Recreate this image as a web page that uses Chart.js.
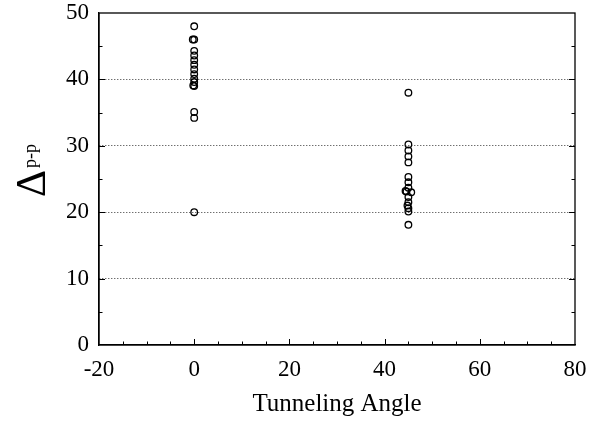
<!DOCTYPE html>
<html lang="en">
<head>
  <meta charset="UTF-8"/>
  <title>Delta p-p vs Tunneling Angle</title>
  <script src="https://cdn.jsdelivr.net/npm/chart.js"></script>
  <style>
    body { margin: 0; padding: 0; background: #fff; }
    .wrap { position: relative; width: 599px; height: 422px; }
  </style>
</head>
<body>
  <div class="wrap"><canvas id="chart" width="599" height="422"></canvas></div>
  <script>
// measured points: tunneling angle (deg) and peak-to-peak delta
const angleSet0 = [0, -0.3, 0, 0, 0, 0, 0, 0, 0, 0, 0, -0.2, 0, 0, 0, 0];
const deltaSet0 = [48, 46, 46, 44.3, 43.6, 42.9, 42.2, 41.5, 40.8, 40.1, 39.6, 39.1, 39, 35.1, 34.2, 20];
const angleSet45 = [45, 45, 45, 45, 45, 45, 45, 45, 44.4, 44.6, 45.6, 45, 45, 44.8, 45, 45, 45];
const deltaSet45 = [38, 30.2, 29.3, 28.4, 27.5, 25.3, 24.5, 23.7, 23.2, 23.1, 23.0, 22.3, 21.5, 21.0, 20.6, 20.1, 18.1];
const xTickValues = [-20, 0, 20, 40, 60, 80];
const yTickValues = [0, 10, 20, 30, 40, 50];

const SERIF = "'Liberation Serif', 'Times New Roman', serif";

function toPoints(xs, ys) { return xs.map((x, i) => ({ x: x, y: ys[i] })); }

// frame, inward tick marks and axis labels
const framePlugin = {
  id: 'frame',
  afterDraw(chart) {
    const ctx = chart.ctx, a = chart.chartArea;
    const xs = chart.scales.x, ys = chart.scales.y;
    ctx.save();
    ctx.strokeStyle = '#000';
    ctx.lineWidth = 1.3;
    ctx.setLineDash([]);
    ctx.strokeRect(a.left, a.top, a.right - a.left, a.bottom - a.top);
    ctx.lineWidth = 1;
    ctx.beginPath();
    for (let v = -15; v < 80; v += 5) {
      const px = Math.round(xs.getPixelForValue(v)) + 0.5;
      const len = (v % 20 === 0) ? 6 : 3.5;
      ctx.moveTo(px, a.bottom); ctx.lineTo(px, a.bottom - len);
    }
    for (let v = 5; v < 50; v += 5) {
      const py = Math.round(ys.getPixelForValue(v)) + 0.5;
      const len = (v % 10 === 0) ? 6 : 3.5;
      ctx.moveTo(a.left, py); ctx.lineTo(a.left + len, py);
      ctx.moveTo(a.right, py); ctx.lineTo(a.right - len, py);
    }
    ctx.stroke();

    // x axis title
    ctx.fillStyle = '#000';
    ctx.font = '25px ' + SERIF;
    ctx.textAlign = 'center';
    ctx.textBaseline = 'alphabetic';
    ctx.fillText('Tunneling Angle', (a.left + a.right) / 2, 411);

    // y axis title: Delta with p-p subscript, rotated
    ctx.translate(45, 197);
    ctx.rotate(-Math.PI / 2);
    ctx.textAlign = 'left';
    ctx.font = '42px ' + SERIF;
    ctx.fillText('\u0394', 0, 0);
    ctx.font = '18px ' + SERIF;
    ctx.fillText('p-p', 29, -9);
    ctx.restore();
  }
};

const pointStyle = {
  pointRadius: 3.3,
  pointHoverRadius: 3.3,
  pointBorderWidth: 1.3,
  pointBorderColor: '#000',
  pointBackgroundColor: 'rgba(0,0,0,0)',
  showLine: false
};

new Chart(document.getElementById('chart'), {
  type: 'scatter',
  data: {
    datasets: [
      Object.assign({ label: 'Angle 0', data: toPoints(angleSet0, deltaSet0) }, pointStyle),
      Object.assign({ label: 'Angle 45', data: toPoints(angleSet45, deltaSet45) }, pointStyle)
    ]
  },
  options: {
    responsive: false,
    animation: false,
    layout: { padding: { top: 13, right: 24, left: 0, bottom: 0 } },
    plugins: { legend: { display: false }, tooltip: { enabled: false } },
    scales: {
      x: {
        type: 'linear', min: -20, max: 80,
        afterFit(s) { s.height = 77; s.paddingLeft = 0; s.paddingRight = 0; },
        afterBuildTicks(s) { s.ticks = xTickValues.map(v => ({ value: v })); },
        grid: { display: false, drawTicks: false },
        border: { display: true, color: '#000', width: 1.3 },
        ticks: { padding: 11, color: '#000', font: { family: SERIF, size: 23 } }
      },
      y: {
        type: 'linear', min: 0, max: 50,
        afterFit(s) { s.width = 99; s.paddingTop = 0; s.paddingBottom = 0; },
        afterBuildTicks(s) { s.ticks = yTickValues.map(v => ({ value: v })); },
        grid: {
          drawTicks: false,
          color: c => (c.tick && (c.tick.value === 0 || c.tick.value === 50)) ? 'rgba(0,0,0,0)' : '#333',
          lineWidth: 1
        },
        // dotted horizontal grid lines
        border: { display: true, color: '#000', width: 1.3, dash: [1, 2] },
        ticks: { padding: 10, color: '#000', font: { family: SERIF, size: 23 } }
      }
    }
  },
  plugins: [framePlugin]
});
  </script>
</body>
</html>
